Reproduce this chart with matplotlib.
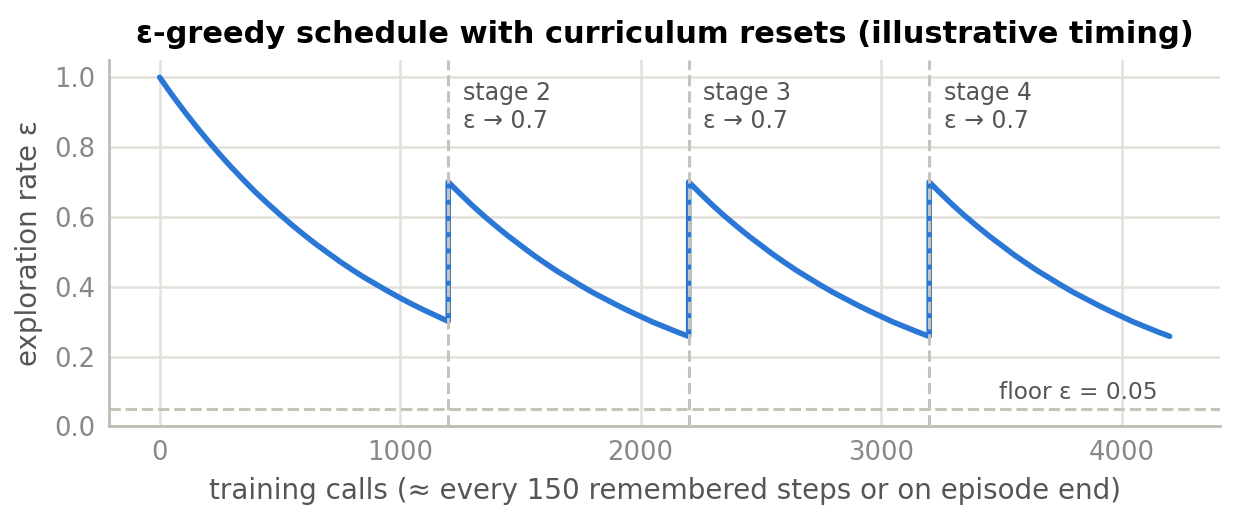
import numpy as np
import matplotlib.pyplot as plt

stage1_calls = list(range(0, 1201, 50))
stage1_eps = [1.0, 0.951, 0.905, 0.861, 0.819, 0.779, 0.741, 0.705, 0.670, 0.638,
              0.607, 0.577, 0.549, 0.522, 0.497, 0.472, 0.449, 0.427, 0.407, 0.387,
              0.368, 0.350, 0.333, 0.317, 0.301]

# later stages restart at 0.7 and last 1000 calls
reset_starts = [1200, 2200, 3200]
reset_offsets = list(range(0, 1001, 50))
reset_eps = [0.700, 0.666, 0.633, 0.602, 0.573, 0.545, 0.519, 0.493, 0.469, 0.446,
             0.425, 0.404, 0.384, 0.366, 0.348, 0.331, 0.315, 0.299, 0.285, 0.271, 0.258]
stage_names = ['stage 2', 'stage 3', 'stage 4']
reset_value = 0.7
floor_eps = 0.05

calls = list(stage1_calls)
eps = list(stage1_eps)
for s in reset_starts:
    calls += [s + o for o in reset_offsets]
    eps += reset_eps

fig, ax = plt.subplots(figsize=(6.2, 2.6), dpi=200)

ax.plot(calls, eps, color='#2a77d6', lw=2.0, zorder=3, solid_capstyle='round')

for s, name in zip(reset_starts, stage_names):
    ax.axvline(s, color='#c4c4bb', ls='--', lw=1.1, zorder=4)
    ax.text(s + 60, 0.99, f'{name}\nε → {reset_value}', va='top', ha='left',
            fontsize=8.5, color='#555555')

ax.axhline(floor_eps, color='#c4c4bb', ls='--', lw=1.1, zorder=2)
ax.text(4150, 0.064, f'floor ε = {floor_eps}', ha='right', va='bottom',
        fontsize=8.4, color='#555555')

ax.set_ylim(0, 1.05)
ax.set_yticks([0.0, 0.2, 0.4, 0.6, 0.8, 1.0])
ax.set_xticks([0, 1000, 2000, 3000, 4000])
ax.grid(True, color='#e2e1da', lw=0.9)
ax.set_axisbelow(True)
for side in ['top', 'right']:
    ax.spines[side].set_visible(False)
for side in ['left', 'bottom']:
    ax.spines[side].set_color('#bdbdb3')
    ax.spines[side].set_linewidth(1.0)
ax.tick_params(length=0, labelsize=9.3, labelcolor='#888888', pad=5)

ax.set_title('ε-greedy schedule with curriculum resets (illustrative timing)',
             fontsize=11, fontweight='bold', pad=6)
ax.set_xlabel('training calls (≈ every 150 remembered steps or on episode end)',
              fontsize=10, color='#555555')
ax.set_ylabel('exploration rate ε', fontsize=10, color='#555555')

fig.subplots_adjust(left=0.088, right=0.984, top=0.885, bottom=0.18)
fig.savefig('out.png')
